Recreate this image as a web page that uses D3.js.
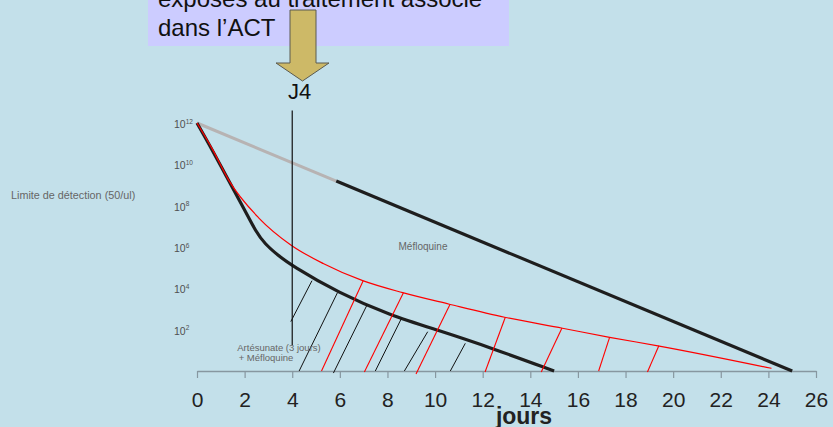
<!DOCTYPE html>
<html>
<head>
<meta charset="utf-8">
<script src="https://cdn.jsdelivr.net/npm/d3@7"></script>
<style>
  html, body { margin: 0; padding: 0; background: #c3e0ea; }
  svg { display: block; font-family: "Liberation Sans", Arial, sans-serif; }
</style>
</head>
<body>
<svg id="chart" width="833" height="427"></svg>
<script>
// Parasite load (log10 of parasites) over time, in days
const dayTicks = [0, 2, 4, 6, 8, 10, 12, 14, 16, 18, 20, 22, 24, 26];
const yTickExps = [2, 4, 6, 8, 10, 12];

// Méfloquine alone: grey part (early), then black part
const mefDays = [0, 5.85, 25];
const mefLog10 = [12, 9.19, 0];

// Artésunate (3 jours) + Méfloquine
const artMefDays = [0, 0.64, 1.35, 2.0, 2.47, 2.85, 3.4, 3.94, 5.97, 8.08, 10.18, 12.28, 15.0];
const artMefLog10 = [12, 10.7, 9.16, 7.8, 6.75, 6.15, 5.6, 5.13, 3.76, 2.71, 1.95, 1.15, 0];

// Residual parasites exposed to the partner drug only (red)
const residDays = [0, 0.64, 1.35, 2.6, 3.94, 5.3, 6.96, 8.64, 10.6, 12.92, 15.35, 17.33, 19.36, 24.13];
const residLog10 = [12, 10.75, 9.2, 7.4, 6.1, 5.2, 4.37, 3.79, 3.23, 2.6, 2.07, 1.63, 1.22, 0.13];

// Hatching under the curves: [day0, log0, day1, log1]
const blackHatch = [
  [3.94, 2.39, 4.83, 4.37],
  [4.29, 0, 5.90, 3.79],
  [5.73, -0.1, 7.14, 3.19],
  [7.49, 0, 8.59, 2.55],
  [8.71, 0, 9.69, 1.90],
  [10.64, 0, 11.27, 1.34]
];
const redHatch = [
  [5.23, 0, 6.98, 4.37],
  [7.03, -0.05, 8.67, 3.79],
  [9.20, -0.15, 10.63, 3.23],
  [12.10, -0.05, 12.95, 2.60],
  [14.46, -0.05, 15.33, 2.08],
  [16.87, 0, 17.33, 1.63],
  [18.92, -0.05, 19.40, 1.22]
];

// Day-4 marker line
const j4Day = 4;
const j4Log10 = [12.6, 1.26];

const boxLines = ["exposés au traitement associé", "dans l\u2019ACT"];

const svg = d3.select("#chart");

const x = d3.scaleLinear().domain([0, 26]).range([197, 816]);
const y = d3.scaleLog().domain([1, 1e12]).range([371, 123]);
const yl = v => y(Math.pow(10, v));

// Caption box and arrow
svg.append("rect").attr("x", 148).attr("y", -5).attr("width", 361).attr("height", 51)
  .attr("fill", "#ccccff");
svg.append("g").selectAll("text").data(boxLines).join("text")
  .attr("x", 158).attr("y", (d, i) => 7 + i * 28.5)
  .attr("font-size", 24).attr("fill", "#111").text(d => d);

svg.append("path")
  .attr("d", "M290,10 L316,10 L316,63 L329,63 L302.5,81 L276,63 L290,63 Z")
  .attr("fill", "#cdb967").attr("stroke", "#5a5a50").attr("stroke-width", 1);
svg.append("text").attr("x", 299.5).attr("y", 99).attr("text-anchor", "middle")
  .attr("font-size", 22).attr("fill", "#111").text("J4");

// X axis
const xAxis = d3.axisBottom(x).tickValues(dayTicks).tickSize(7).tickSizeOuter(0).tickPadding(14);
const gx = svg.append("g").attr("transform", "translate(0,371)").call(xAxis);
gx.select(".domain").attr("stroke", "#8797a0").attr("stroke-width", 1.5);
gx.selectAll(".tick line").attr("stroke", "#8797a0").attr("stroke-width", 1.2);
gx.selectAll(".tick text").attr("font-size", 21).attr("fill", "#222")
  .attr("font-family", "\"Liberation Sans\", Arial, sans-serif");

svg.append("text").attr("x", 524).attr("y", 424).attr("text-anchor", "middle")
  .attr("font-size", 23).attr("font-weight", "bold").attr("fill", "#222").text("jours");

// Y tick labels 10^n
const yt = svg.append("g").selectAll("text").data(yTickExps).join("text")
  .attr("x", 174).attr("y", d => yl(d) + 5)
  .attr("font-size", 10.5).attr("fill", "#505050");
yt.append("tspan").text("10");
yt.append("tspan").attr("dy", -4.5).attr("font-size", 6.5).text(d => d);

svg.append("text").attr("x", 11).attr("y", 199).attr("font-size", 10.8).attr("fill", "#666")
  .text("Limite de détection  (50/ul)");

// Curves
const line = d3.line().x(d => x(d[0])).y(d => yl(d[1]));
const smooth = d3.line().x(d => x(d[0])).y(d => yl(d[1])).curve(d3.curveBasis);
const curve = d3.line().x(d => x(d[0])).y(d => yl(d[1])).curve(d3.curveMonotoneX);

const mefPts = mefDays.map((d, i) => [d, mefLog10[i]]);
svg.append("path").attr("d", line(mefPts.slice(0, 2)))
  .attr("fill", "none").attr("stroke", "#b7b3b3").attr("stroke-width", 3);
svg.append("path").attr("d", line(mefPts.slice(1)))
  .attr("fill", "none").attr("stroke", "#1e1e1e").attr("stroke-width", 3.2);

svg.append("path").attr("d", smooth(artMefDays.map((d, i) => [d, artMefLog10[i]])))
  .attr("fill", "none").attr("stroke", "#1e1e1e").attr("stroke-width", 3.2);

// Hatching
svg.append("g").selectAll("line").data(blackHatch).join("line")
  .attr("x1", d => x(d[0])).attr("y1", d => yl(d[1]))
  .attr("x2", d => x(d[2])).attr("y2", d => yl(d[3]))
  .attr("stroke", "#111").attr("stroke-width", 1);
svg.append("g").selectAll("line").data(redHatch).join("line")
  .attr("x1", d => x(d[0])).attr("y1", d => yl(d[1]))
  .attr("x2", d => x(d[2])).attr("y2", d => yl(d[3]))
  .attr("stroke", "#ff0000").attr("stroke-width", 1.1);

svg.append("path").attr("d", curve(residDays.map((d, i) => [d, residLog10[i]])))
  .attr("fill", "none").attr("stroke", "#ff0000").attr("stroke-width", 1.2);

// J4 marker
svg.append("line").attr("x1", x(j4Day)).attr("x2", x(j4Day))
  .attr("y1", yl(j4Log10[0])).attr("y2", yl(j4Log10[1]))
  .attr("stroke", "#111").attr("stroke-width", 1.2);

// Curve labels
svg.append("text").attr("x", 423).attr("y", 250).attr("text-anchor", "middle")
  .attr("font-size", 10).attr("fill", "#666").text("Méfloquine");
svg.append("text").attr("x", 279).attr("y", 351).attr("text-anchor", "middle")
  .attr("font-size", 9.5).attr("fill", "#666").text("Artésunate (3 jours)");
svg.append("text").attr("x", 266).attr("y", 361).attr("text-anchor", "middle")
  .attr("font-size", 9.5).attr("fill", "#666").text("+ Méfloquine");
</script>
</body>
</html>
